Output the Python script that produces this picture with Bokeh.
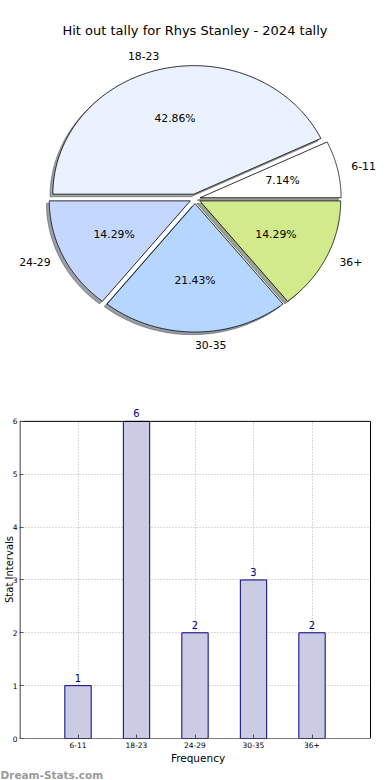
import numpy as np
from bokeh.plotting import figure
from bokeh.models import ColumnDataSource, Range1d, Label, LabelSet, FixedTicker, Title
from bokeh.layouts import column
from bokeh.embed import file_html
from bokeh.resources import INLINE
from bokeh.core.properties import value

# ---------------- data ----------------
title_text = "Hit out tally for Rhys Stanley - 2024 tally"
categories = ["6-11", "18-23", "24-29", "30-35", "36+"]
counts = [1, 6, 2, 3, 2]
pie_colors = ["#ffffff", "#eaf1ff", "#c4d8ff", "#b4d6ff", "#d0ea8c"]
y_ticks = [0, 1, 2, 3, 4, 5, 6]
x_axis_label = "Frequency"
y_axis_label = "Stat Intervals"
watermark = "Dream-Stats.com"

FONT = "DejaVu Sans"
W = 390
PIE_H = 392
BAR_H = 388
BL, BR = 19, 14                # shared left / right borders (column aligns frames)
RX, RY = 141.0, 128.5          # pixels per unit radius (stretched pie)
CX, CY = 194.5, 198.3          # pie centre in canvas pixels (from left / top)
EXPLODE = 0.037
SHADOW = -0.02

# ---------------- pie ----------------
fw = W - BL - BR
pie = figure(width=W, height=PIE_H,
             x_range=Range1d(-(CX - BL) / RX, (fw - (CX - BL)) / RX),
             y_range=Range1d(-(PIE_H - CY) / RY, CY / RY),
             output_backend="svg", toolbar_location=None,
             min_border_left=BL, min_border_right=BR, min_border_top=0, min_border_bottom=0)
pie.axis.visible = False
pie.grid.visible = False
pie.outline_line_color = None

total = float(sum(counts))
fracs = np.array(counts, dtype=float) / total
ends = np.cumsum(fracs) * 2 * np.pi
starts = ends - fracs * 2 * np.pi
mids = (starts + ends) / 2

wx, wy, sx, sy = [], [], [], []
for s, e, m in zip(starts, ends, mids):
    ox, oy = EXPLODE * np.cos(m), EXPLODE * np.sin(m)
    t = np.linspace(s, e, 120)
    px = np.concatenate([[ox], ox + np.cos(t)])
    py = np.concatenate([[oy], oy + np.sin(t)])
    wx.append(list(px)); wy.append(list(py))
    sx.append(list(px + SHADOW)); sy.append(list(py + SHADOW))

def shade(hexcol):
    r, g, b = (int(hexcol[i:i + 2], 16) for i in (1, 3, 5))
    return "#%02x%02x%02x" % (int(r * 0.3), int(g * 0.3), int(b * 0.3))

shadow_cols = [shade(c) for c in pie_colors]
pie.patches(xs=sx, ys=sy, fill_color=shadow_cols, fill_alpha=0.5,
            line_color=shadow_cols, line_alpha=0.5, line_width=1)
pie.patches(xs=wx, ys=wy, fill_color=pie_colors, line_color="black", line_width=0.8)

lab_x = EXPLODE * np.cos(mids) + 1.1 * np.cos(mids)
lab_y = EXPLODE * np.sin(mids) + 1.1 * np.sin(mids)
pct_x = EXPLODE * np.cos(mids) + 0.6 * np.cos(mids)
pct_y = EXPLODE * np.sin(mids) + 0.6 * np.sin(mids)
pct_txt = ["%1.2f%%" % (f * 100) for f in fracs]

left = [i for i in range(len(categories)) if np.cos(mids[i]) > -1e-9]
right = [i for i in range(len(categories)) if np.cos(mids[i]) <= -1e-9]
for idx_set, align in ((left, "left"), (right, "right")):
    src = ColumnDataSource(dict(x=[lab_x[i] for i in idx_set], y=[lab_y[i] for i in idx_set],
                                t=[categories[i] for i in idx_set]))
    pie.text(x="x", y="y", text="t", source=src, text_align=align, text_baseline="middle",
             text_font=value(FONT), text_font_size="10.8px", text_color="black")

pie.text(x=list(pct_x), y=list(pct_y), text=pct_txt, text_align="center",
         text_baseline="middle", text_font=value(FONT), text_font_size="10.8px",
         text_color="black")

pie.add_layout(Label(x=0.0, y=(CY - 30) / RY, text=title_text, text_align="center",
                     text_baseline="middle", text_font=FONT, text_font_size="13px",
                     text_color="black"))

# ---------------- bar ----------------
PX = 58.5                       # pixels per category step
X0 = 77.5                       # canvas x of first category
x_start = -(X0 - BL) / PX
x_end = (W - BR - X0) / PX
BOX_TOP_PX, BOX_BOT_PX = 421.0, 740.0
frame_top_px = PIE_H + 8
y_per = (BOX_BOT_PX - BOX_TOP_PX) / 6.0
y_top = 6.0 + (BOX_TOP_PX - frame_top_px) / y_per

bar = figure(width=W, height=BAR_H, x_range=Range1d(x_start, x_end), y_range=Range1d(0, y_top),
             output_backend="svg", toolbar_location=None,
             min_border_left=BL, min_border_right=BR, min_border_top=8,
             min_border_bottom=int(PIE_H + BAR_H - BOX_BOT_PX))
idx = list(range(len(categories)))
bsrc = ColumnDataSource(dict(x=idx, top=counts, lbl=[str(c) for c in counts]))

try:
    bar.xgrid.cross_bounds = (0, 6)
    bar.ygrid.cross_bounds = (-1, 5)
except Exception:
    pass
bar.xgrid.ticker = FixedTicker(ticks=idx)
bar.ygrid.ticker = FixedTicker(ticks=y_ticks[1:-1])
bar.grid.grid_line_color = "#b4b4b4"
bar.grid.grid_line_dash = "1 2"
bar.grid.grid_line_width = 1

bar.vbar(x="x", top="top", width=0.45, source=bsrc, fill_color="#cbcbe3",
         line_color="#000080", line_width=1)
bar.quad(left=[-1 + 0.5 / PX], right=[len(categories)], bottom=[y_ticks[0]], top=[y_ticks[-1]],
         fill_color=None, line_color="black", line_width=1)
bar.add_layout(LabelSet(x="x", y="top", text="lbl", source=bsrc, text_align="center",
                        text_baseline="bottom", y_offset=4, text_color="#000080",
                        text_font=value(FONT), text_font_size="10px"))

bar.xaxis.ticker = FixedTicker(ticks=idx)
bar.xaxis.major_label_overrides = {i: c for i, c in enumerate(categories)}
bar.yaxis.ticker = FixedTicker(ticks=y_ticks)
bar.yaxis.bounds = (0, 6)
for ax in (bar.xaxis, bar.yaxis):
    ax.axis_line_color = None
    ax.major_tick_in = 4
    ax.major_tick_out = 0
    ax.major_tick_line_color = "#555555"
    ax.minor_tick_line_color = None
    ax.major_label_text_font = FONT
    ax.major_label_text_font_size = "7.5px"
    ax.major_label_text_color = "black"
    ax.major_label_text_line_height = 1.0
    ax.major_label_standoff = 3
    ax.axis_label_text_font = FONT
    ax.axis_label_text_font_size = "10.5px"
    ax.axis_label_text_font_style = "normal"
    ax.axis_label_text_color = "black"
    ax.axis_label_text_line_height = 1.0
    ax.axis_label_standoff = 1
bar.xaxis.axis_label = x_axis_label
bar.yaxis.axis_label = y_axis_label
bar.yaxis.major_label_standoff = 2
bar.yaxis.axis_label_standoff = -5
bar.yaxis.axis_label_text_font_size = "10px"
bar.outline_line_color = None

bar.add_layout(Title(text=watermark, align="left", offset=-BL, standoff=0,
                     text_font=FONT, text_font_size="10.5px", text_font_style="bold",
                     text_color="#9a9a9a"), "below")

layout = column(pie, bar, spacing=0)
open("out.html", "w").write(file_html(layout, INLINE))
